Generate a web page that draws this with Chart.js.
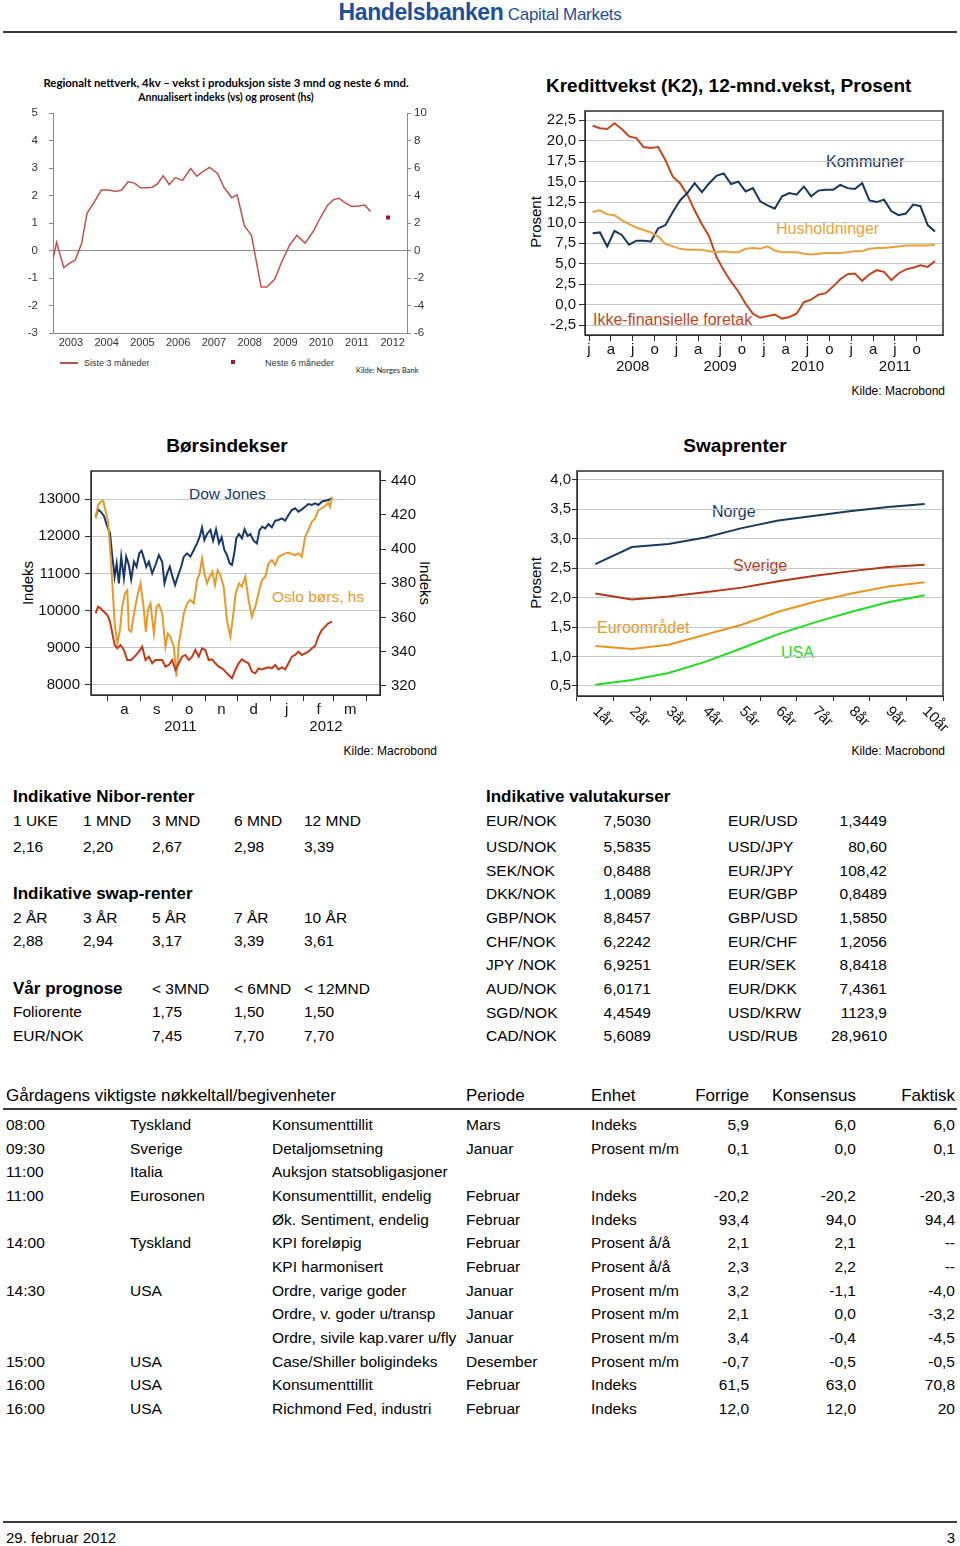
<!DOCTYPE html>
<html><head><meta charset="utf-8">
<script src="https://cdn.jsdelivr.net/npm/chart.js@4.4.0/dist/chart.umd.min.js"></script>
<style>
html,body{margin:0;padding:0;background:#fff;}
body{width:960px;height:1546px;position:relative;overflow:hidden;font-family:"Liberation Sans",Arial,sans-serif;color:#000;}
.t{position:absolute;white-space:nowrap;line-height:1.2;}
canvas{position:absolute;}
.hr{position:absolute;}
</style></head><body>
<script>
// ================= DATA =================
// Chart 1: Regionalt nettverk
const regYears = [2003.00,2003.10,2003.30,2003.48,2003.62,2003.80,2003.95,2004.15,2004.35,2004.55,2004.75,2004.92,2005.10,2005.28,2005.45,2005.62,2005.78,2005.92,2006.08,2006.25,2006.42,2006.62,2006.85,2007.02,2007.20,2007.38,2007.60,2007.78,2008.00,2008.15,2008.35,2008.55,2008.82,2008.98,2009.20,2009.40,2009.62,2009.82,2010.05,2010.28,2010.48,2010.68,2010.85,2011.00,2011.15,2011.35,2011.55,2011.72,2011.88];
const regSiste3 = [-0.30,0.30,-0.62,-0.45,-0.35,0.25,1.35,1.75,2.20,2.20,2.15,2.20,2.50,2.45,2.28,2.28,2.30,2.42,2.72,2.40,2.65,2.55,2.98,2.70,2.88,3.02,2.80,2.30,1.92,2.02,0.90,0.55,-1.33,-1.33,-1.05,-0.40,0.20,0.55,0.27,0.70,1.20,1.65,1.85,1.90,1.75,1.60,1.62,1.65,1.42];
const regNeste6 = {x: 2012.37, y: 1.2};
const regYearLabels = [2003,2004,2005,2006,2007,2008,2009,2010,2011,2012];
const regLeftTicks = [-3,-2,-1,0,1,2,3,4,5];
const regRightTicks = [-6,-4,-2,0,2,4,6,8,10];

// Chart 2: Kredittvekst (monthly, Jan 2008 - Dec 2011)
const k2Kommuner = [8.7,8.8,7.1,9.0,8.5,7.3,7.8,7.8,7.7,9.3,9.7,11.3, 12.7,13.6,14.8,13.7,14.8,15.7,16.0,14.7,15.0,13.8,14.2,12.6, 12.1,11.7,13.2,13.6,13.4,14.4,13.2,13.9,14.0,14.0,14.6,14.2, 14.1,14.8,12.7,12.5,12.8,11.4,10.9,11.1,12.2,12.0,9.7,8.9];
const k2Hush = [11.3,11.5,11.0,10.9,10.3,9.8,9.4,9.1,8.8,8.3,7.4,7.1, 6.8,6.7,6.7,6.7,6.5,6.4,6.5,6.4,6.4,6.8,6.9,6.8, 7.1,6.6,6.4,6.4,6.4,6.2,6.1,6.2,6.3,6.3,6.3,6.4, 6.5,6.5,6.8,6.9,6.9,7.0,7.1,7.2,7.2,7.2,7.2,7.3];
const k2Ikke = [21.8,21.5,21.4,22.1,21.4,20.5,20.3,19.2,19.1,19.2,17.6,15.6, 14.8,13.4,11.5,9.8,8.3,5.8,4.2,2.8,1.6,0.1,-1.1,-1.6, -1.4,-1.2,-1.7,-1.5,-1.1,0.3,0.6,1.2,1.4,2.2,3.1,3.7, 3.8,2.9,3.7,4.2,4.0,3.0,3.8,4.3,4.5,4.8,4.6,5.3];
const k2QuarterLetters = ['j','a','j','o'];
const k2Years = ['2008','2009','2010','2011'];
const k2YTicks = [-2.5,0,2.5,5,7.5,10,12.5,15,17.5,20,22.5];

// Chart 3: Børsindekser (days since 1 Aug 2011)
const djDays = [-11.6,-9.4,-6.9,-3.8,-0.6,1.9,4.1,6.3,8.2,10.3,12.5,15.0,17.2,19.7,21.9,24.5,27.0,29.5,31.7,33.9,36.1,38.6,41.7,44.8,48.0,51.1,53.3,55.8,58.3,60.8,63.3,65.8,69.0,71.5,74.6,77.7,80.9,84.0,86.5,88.7,90.9,93.4,96.6,99.1,101.9,104.7,107.2,109.7,112.2,114.7,116.9,119.1,121.0,123.5,126.3,128.8,131.7,134.2,137.3,140.4,142.9,145.5,148.3,151.4,154.5,157.7,160.8,163.9,167.1,170.2,173.4,176.5,179.6,182.8,185.9,189.0,192.2,195.3,198.4,201.6,204.7,207.8,211.3];
const djVals = [12507,12722,12660,12543,12256,12077,11450,10912,11270,10733,11450,10867,11450,11226,10840,11315,11180,11540,11611,11405,11180,11315,11000,11226,11495,11315,10733,11000,11180,10912,10688,10912,11180,11450,11540,11450,11630,11808,11987,12238,11898,12060,12167,11880,12185,11808,11970,11630,11495,11270,11226,11540,11943,12060,11943,12185,12005,12060,11880,11808,12167,12256,12211,12328,12238,12418,12436,12480,12418,12570,12704,12749,12660,12722,12794,12866,12839,12884,12839,12928,12955,12973,13018];
const osloDays = [-11.6,-9.4,-6.9,-4.4,-2.2,0,1.9,4.1,6.3,8.8,11.3,13.5,16.0,18.2,19.7,21.9,24.5,27.6,30.7,33.2,35.7,37.6,40.1,43.3,45.8,48.0,51.1,54.2,56.4,58.9,62.1,64.6,66.8,69.0,71.5,74.6,77.7,80.9,84.0,86.5,88.7,90.9,93.4,95.9,98.4,100.9,103.4,105.9,109.1,112.2,115.4,117.9,120.4,123.5,126.3,129.5,132.6,135.7,138.9,142.0,145.1,148.3,151.4,154.5,157.7,160.8,163.9,167.1,170.2,173.4,176.5,179.6,182.8,185.9,189.0,192.2,195.3,198.4,201.6,204.7,207.8,209.4,211.3];
const osloVals = [418.0,425.8,427.7,428.3,421.9,416.0,401.4,379.9,356.5,344.8,352.6,366.3,374.1,376.0,352.6,351.6,362.3,372.1,379.9,368.2,351.6,364.1,368.2,350.6,366.3,367.6,362.3,342.8,350.6,348.6,342.8,325.3,344.8,352.6,362.3,368.2,370.2,368.2,381.9,385.8,394.5,385.8,379.9,383.8,386.7,378.9,387.7,384.9,378.0,358.4,348.7,360.4,374.1,379.9,378.0,383.8,370.2,360.4,366.3,374.1,381.9,383.8,391.6,393.6,390.6,395.5,396.5,397.5,397.9,397.1,396.5,397.5,395.5,407.2,411.1,416.0,418.0,422.8,423.8,425.2,427.1,424.8,430.6];
const redDays = [-11.6,-9.4,-6.9,-3.8,-0.6,1.9,4.1,6.3,8.8,11.9,15.0,18.2,21.9,25.1,29.2,32.3,35.4,38.6,41.7,44.8,48.0,51.1,54.2,57.4,60.5,63.6,66.8,69.9,73.0,76.2,79.3,82.4,85.6,88.7,91.8,95.0,98.1,101.3,104.4,107.5,110.7,113.8,116.9,120.1,123.2,126.3,129.5,132.6,135.7,138.9,142.0,145.1,148.3,151.4,154.5,157.7,160.8,163.9,167.1,170.2,173.4,176.5,179.6,182.8,185.9,189.0,192.2,195.3,198.4,201.6,204.7,207.8,211.3];
const redVals = [9927,10106,10061,9971,9882,9703,9389,9076,8986,9076,8941,8672,8672,8762,8896,9031,8672,8762,8583,8672,8672,8672,8493,8538,8672,8403,8583,8762,8807,8672,8762,8941,8762,8986,8941,8672,8690,8583,8493,8448,8359,8269,8180,8403,8583,8690,8628,8583,8359,8314,8448,8421,8448,8475,8448,8538,8421,8475,8421,8583,8762,8807,8896,8807,8852,8896,8986,9049,9300,9479,9568,9658,9703];
const borsMonthStarts = [0,31,61,92,122,153,184,213,244];
const borsMonthLetters = ['a','s','o','n','d','j','f','m'];
const borsYearDays = [68.3,205.6];
const borsYearLabels = ['2011','2012'];
const borsLeftTicks = [8000,8500,9000,9500,10000,10500,11000,11500,12000,12500,13000,13500];
const borsRightTicks = [320,330,340,350,360,370,380,390,400,410,420,430,440];

// Chart 4: Swaprenter
const swapTenors = ['1år','2år','3år','4år','5år','6år','7år','8år','9år','10år'];
const swapNorge = [2.57,2.86,2.91,3.02,3.18,3.31,3.39,3.47,3.54,3.59];
const swapSverige = [2.07,1.97,2.02,2.09,2.17,2.28,2.37,2.45,2.52,2.56];
const swapEuro = [1.18,1.13,1.20,1.37,1.54,1.76,1.93,2.07,2.19,2.26];
const swapUSA = [0.52,0.60,0.72,0.91,1.14,1.38,1.58,1.76,1.92,2.04];
const swapYTicks = [0.5,1.0,1.5,2.0,2.5,3.0,3.5,4.0];

// Tables
const niborHead = ['1 UKE','1 MND','3 MND','6 MND','12 MND'];
const niborVals = ['2,16','2,20','2,67','2,98','3,39'];
const swapHead = ['2 ÅR','3 ÅR','5 ÅR','7 ÅR','10 ÅR'];
const swapVals = ['2,88','2,94','3,17','3,39','3,61'];
const prognHead = ['< 3MND','< 6MND','< 12MND'];
const prognRows = [['Foliorente','1,75','1,50','1,50'],['EUR/NOK','7,45','7,70','7,70']];
const fxLeftNames = ['EUR/NOK','USD/NOK','SEK/NOK','DKK/NOK','GBP/NOK','CHF/NOK','JPY /NOK','AUD/NOK','SGD/NOK','CAD/NOK'];
const fxLeftVals = ['7,5030','5,5835','0,8488','1,0089','8,8457','6,2242','6,9251','6,0171','4,4549','5,6089'];
const fxRightNames = ['EUR/USD','USD/JPY','EUR/JPY','EUR/GBP','GBP/USD','EUR/CHF','EUR/SEK','EUR/DKK','USD/KRW','USD/RUB'];
const fxRightVals = ['1,3449','80,60','108,42','0,8489','1,5850','1,2056','8,8418','7,4361','1123,9','28,9610'];
const evHead = ['Gårdagens viktigste nøkkeltall/begivenheter','Periode','Enhet','Forrige','Konsensus','Faktisk'];
const evRows = [
 ['08:00','Tyskland','Konsumenttillit','Mars','Indeks','5,9','6,0','6,0'],
 ['09:30','Sverige','Detaljomsetning','Januar','Prosent m/m','0,1','0,0','0,1'],
 ['11:00','Italia','Auksjon statsobligasjoner','','','','',''],
 ['11:00','Eurosonen','Konsumenttillit, endelig','Februar','Indeks','-20,2','-20,2','-20,3'],
 ['','','Øk. Sentiment, endelig','Februar','Indeks','93,4','94,0','94,4'],
 ['14:00','Tyskland','KPI foreløpig','Februar','Prosent å/å','2,1','2,1','--'],
 ['','','KPI harmonisert','Februar','Prosent å/å','2,3','2,2','--'],
 ['14:30','USA','Ordre, varige goder','Januar','Prosent m/m','3,2','-1,1','-4,0'],
 ['','','Ordre, v. goder u/transp','Januar','Prosent m/m','2,1','0,0','-3,2'],
 ['','','Ordre, sivile kap.varer u/fly','Januar','Prosent m/m','3,4','-0,4','-4,5'],
 ['15:00','USA','Case/Shiller boligindeks','Desember','Prosent m/m','-0,7','-0,5','-0,5'],
 ['16:00','USA','Konsumenttillit','Februar','Indeks','61,5','63,0','70,8'],
 ['16:00','USA','Richmond Fed, industri','Februar','Indeks','12,0','12,0','20']
];

// ================= HELPERS =================
function T(x,y,s,o){
  o=o||{};
  const d=document.createElement('div'); d.className='t'; d.textContent=s;
  d.style.left=x+'px'; d.style.top=y+'px';
  let tr='translateY(-50%)';
  if(o.a==='r') tr='translate(-100%,-50%)';
  if(o.a==='c') tr='translate(-50%,-50%)';
  if(o.rot) tr='translate(-50%,-50%) rotate('+o.rot+'deg)';
  d.style.transform=tr;
  if(o.f) d.style.fontSize=o.f+'px';
  if(o.b) d.style.fontWeight='bold';
  if(o.c) d.style.color=o.c;
  if(o.ff) d.style.fontFamily=o.ff;
  if(o.ls) d.style.letterSpacing=o.ls+'px';
  document.body.appendChild(d); return d;
}
function H(x,y,w,h,c){const d=document.createElement('div');d.className='hr';d.style.left=x+'px';d.style.top=y+'px';d.style.width=w+'px';d.style.height=h+'px';d.style.background=c;document.body.appendChild(d);return d;}
function C(x,y,w,h){const c=document.createElement('canvas');c.width=w;c.height=h;c.style.left=x+'px';c.style.top=y+'px';c.style.width=w+'px';c.style.height=h+'px';document.body.appendChild(c);return c;}
function fit(w,h){return function(s){if(w!=null)s.width=w;if(h!=null)s.height=h;s.paddingTop=0;s.paddingBottom=0;s.paddingLeft=0;s.paddingRight=0;};}
function fmt1(v){return v.toFixed(1).replace('.',',');}
function xy(xs,ys){return xs.map((x,i)=>({x:x,y:ys[i]}));}
const framePlugin={id:'frame',afterDatasetsDraw(chart,args,opts){if(!opts||!opts.color)return;const ctx=chart.ctx,a=chart.chartArea;ctx.save();ctx.strokeStyle=opts.color;ctx.lineWidth=opts.width||1.5;ctx.strokeRect(a.left,a.top,a.right-a.left,a.bottom-a.top);ctx.restore();}};

Chart.defaults.font.family='"Liberation Sans", Arial, sans-serif';
Chart.defaults.animation=false;
const GRID='#c6c6c6', FRAME='#2e2e2e', TXT='#111';

// ================= HEADER =================
const hd=T(480,13,'',{a:'c'});
hd.innerHTML='<span style="font-family:\'Liberation Sans Narrow\',\'Liberation Sans\';font-weight:bold;font-size:23px;color:#1d4f9c;letter-spacing:-0.4px">Handelsbanken</span> <span style="font-family:\'Liberation Sans Narrow\',\'Liberation Sans\';font-size:17px;color:#1d4f9c;letter-spacing:-0.3px">Capital Markets</span>';
H(3,31,954,2,'#3a3a3a');

// ================= CHART 1 =================
T(226,83,'Regionalt nettverk, 4kv – vekst i produksjon siste 3 mnd og neste 6 mnd.',{a:'c',b:true,f:11.4,ff:'Lato'});
T(226,97,'Annualisert indeks (vs) og prosent (hs)',{a:'c',b:true,f:10.5,ff:'Lato'});
H(60,362,18,2,'#c0504d');
T(84,363,'Siste 3 måneder',{f:9,c:'#333'});
H(231,360,4,4,'#a3182b');
T(265,363,'Neste 6 måneder',{f:9,c:'#333'});
T(356,370,'Kilde: Norges Bank',{f:7.5,ff:'Lato',c:'#222'});

new Chart(C(20,105,420,250),{
  type:'line',
  data:{datasets:[
    {data:xy(regYears,regSiste3),borderColor:'#c0504d',borderWidth:1.5,pointRadius:0,yAxisID:'y'},
    {type:'scatter',data:[regNeste6],pointStyle:'rect',pointRadius:2.2,backgroundColor:'#a3182b',borderColor:'#a3182b',yAxisID:'y'}
  ]},
  options:{responsive:false,layout:{padding:{top:8,left:0,right:0,bottom:0}},
    plugins:{legend:{display:false},tooltip:{enabled:false}},
    scales:{
      x:{type:'linear',min:2003,max:2012.9,afterBuildTicks:s=>{s.ticks=regYearLabels.map(v=>({value:v+0.5}));},
        ticks:{callback:v=>String(Math.floor(v)),color:'#333',font:{size:11},padding:3,autoSkip:false,maxRotation:0},
        grid:{drawOnChartArea:false,drawTicks:false},border:{color:'#8a8a8a'},afterFit:fit(null,22)},
      y:{position:'left',min:-3,max:5,afterBuildTicks:s=>{s.ticks=regLeftTicks.map(v=>({value:v}));},
        ticks:{color:'#333',font:{size:11.5},padding:11},
        grid:{color:c=>(c.tick&&c.tick.value===0)?'#8f8f8f':'rgba(0,0,0,0)',tickColor:'#8a8a8a',tickLength:4},
        border:{color:'#8a8a8a'},afterFit:fit(33)},
      y2:{position:'right',min:-6,max:10,afterBuildTicks:s=>{s.ticks=regRightTicks.map(v=>({value:v}));},
        ticks:{color:'#333',font:{size:11.5},padding:3},
        grid:{drawOnChartArea:false,tickColor:'#8a8a8a',tickLength:4},
        border:{color:'#8a8a8a'},afterFit:fit(33)}
    }}
});

// ================= CHART 2 =================
T(546,86,'Kredittvekst (K2), 12-mnd.vekst, Prosent',{b:true,f:19});
T(536,222,'Prosent',{rot:-90,f:15});
T(945,391,'Kilde: Macrobond',{a:'r',f:12});
T(826,162,'Kommuner',{f:16,c:'#17375e'});
T(776,229,'Husholdninger',{f:16,c:'#e9a23b'});
T(593,320,'Ikke-finansielle foretak',{f:16,c:'#c4461e'});
const k2X=k2Ikke.map((v,i)=>i+0.5);
new Chart(C(520,100,430,275),{
  type:'line',
  data:{datasets:[
    {data:xy(k2X,k2Hush),borderColor:'#e9a23b',borderWidth:2,pointRadius:0},
    {data:xy(k2X,k2Kommuner),borderColor:'#17375e',borderWidth:2,pointRadius:0},
    {data:xy(k2X,k2Ikke),borderColor:'#c4461e',borderWidth:2,pointRadius:0}
  ]},
  plugins:[framePlugin],
  options:{responsive:false,layout:{padding:{top:11,left:0,right:7,bottom:0}},
    plugins:{legend:{display:false},tooltip:{enabled:false},frame:{color:FRAME,width:1.5}},
    scales:{
      x:{type:'linear',min:-0.55,max:48.6,afterBuildTicks:s=>{const t=[];for(let m=0;m<48;m+=3)t.push({value:m});s.ticks=t;},
        ticks:{callback:v=>{const q=Math.round(v/3);const l=k2QuarterLetters[q%4];return (q%4===2)?[l,k2Years[Math.floor(q/4)]]:l;},
          color:TXT,font:{size:15,lineHeight:1.15},padding:0,autoSkip:false,maxRotation:0},
        grid:{drawOnChartArea:false,tickColor:FRAME,tickLength:6},border:{color:FRAME},afterFit:fit(null,40)},
      y:{min:-3.7,max:23.6,afterBuildTicks:s=>{s.ticks=k2YTicks.map(v=>({value:v}));},
        ticks:{callback:v=>fmt1(v),color:TXT,font:{size:15},padding:3},
        grid:{color:GRID,tickColor:FRAME,tickLength:6},border:{color:FRAME},afterFit:fit(65)}
    }}
});

// ================= CHART 3 =================
T(227,446,'Børsindekser',{a:'c',b:true,f:19});
T(28,583,'Indeks',{rot:-90,f:15});
T(425,583,'Indeks',{rot:90,f:15});
T(437,751,'Kilde: Macrobond',{a:'r',f:12});
T(189,494,'Dow Jones',{f:15.5,c:'#16386a'});
T(272,597,'Oslo børs, hs',{f:15.5,c:'#e9992a'});
const borsMids=borsMonthStarts.slice(0,-1).map((v,i)=>(v+borsMonthStarts[i+1])/2);
function idxIn(arr,v){for(let i=0;i<arr.length;i++){if(Math.abs(arr[i]-v)<0.01)return i;}return -1;}
new Chart(C(10,460,440,275),{
  type:'line',
  data:{datasets:[
    {data:xy(redDays,redVals),borderColor:'#c23b16',borderWidth:2,pointRadius:0,yAxisID:'y'},
    {data:xy(osloDays,osloVals),borderColor:'#e9992a',borderWidth:2,pointRadius:0,yAxisID:'y2'},
    {data:xy(djDays,djVals),borderColor:'#16386a',borderWidth:2,pointRadius:0,yAxisID:'y'}
  ]},
  plugins:[framePlugin],
  options:{responsive:false,layout:{padding:{top:11,left:0,right:0,bottom:0}},
    plugins:{legend:{display:false},tooltip:{enabled:false},frame:{color:FRAME,width:1.5}},
    scales:{
      x:{type:'linear',min:-16,max:256.5,
        afterBuildTicks:s=>{s.ticks=borsMonthStarts.concat(borsMids,borsYearDays).sort((a,b)=>a-b).map(v=>({value:v}));},
        ticks:{callback:v=>{const i=idxIn(borsMids,v);if(i>=0)return borsMonthLetters[i];const j=idxIn(borsYearDays,v);if(j>=0)return ['',borsYearLabels[j]];return '';},
          color:TXT,font:{size:15,lineHeight:1.15},padding:0,autoSkip:false,maxRotation:0},
        grid:{drawOnChartArea:false,tickColor:c=>(c.tick&&idxIn(borsMonthStarts,c.tick.value)>=0)?FRAME:'rgba(0,0,0,0)',tickLength:6},
        border:{color:FRAME},afterFit:fit(null,40)},
      y:{position:'left',min:7731,max:13753,afterBuildTicks:s=>{s.ticks=borsLeftTicks.map(v=>({value:v}));},
        ticks:{callback:v=>(v%1000===0)?String(v):'',color:TXT,font:{size:15},padding:5},
        grid:{color:GRID,tickColor:FRAME,tickLength:6},border:{color:FRAME},afterFit:fit(81)},
      y2:{position:'right',min:314.6,max:445.7,afterBuildTicks:s=>{s.ticks=borsRightTicks.map(v=>({value:v}));},
        ticks:{callback:v=>(v%20===0)?String(v):'',color:TXT,font:{size:15},padding:5},
        grid:{drawOnChartArea:false,tickColor:FRAME,tickLength:6},border:{color:FRAME},afterFit:fit(70)}
    }}
});

// ================= CHART 4 =================
T(735,446,'Swaprenter',{a:'c',b:true,f:19});
T(536,583,'Prosent',{rot:-90,f:15});
T(945,751,'Kilde: Macrobond',{a:'r',f:12});
T(712,512,'Norge',{f:16,c:'#1b3a5e'});
T(733,566,'Sverige',{f:16,c:'#b5371a'});
T(597,628,'Euroområdet',{f:16,c:'#e8961e'});
T(781,653,'USA',{f:16,c:'#22dd22'});
const rotLabels={id:'rotLabels',afterDraw(chart){const s=chart.scales.x,ctx=chart.ctx;ctx.save();ctx.font='15px "Liberation Sans", Arial';ctx.fillStyle=TXT;ctx.textAlign='left';ctx.textBaseline='middle';
  swapTenors.forEach((t,i)=>{const x=s.getPixelForValue(i);ctx.save();ctx.translate(x,s.top+13);ctx.rotate(Math.PI/4);ctx.fillText(t,0,0);ctx.restore();});ctx.restore();}};
new Chart(C(520,460,430,280),{
  type:'line',
  data:{labels:swapTenors,datasets:[
    {data:swapUSA,borderColor:'#22dd22',borderWidth:2,pointRadius:0},
    {data:swapEuro,borderColor:'#e8961e',borderWidth:2,pointRadius:0},
    {data:swapSverige,borderColor:'#b5371a',borderWidth:2,pointRadius:0},
    {data:swapNorge,borderColor:'#1b3a5e',borderWidth:2,pointRadius:0}
  ]},
  plugins:[framePlugin,rotLabels],
  options:{responsive:false,layout:{padding:{top:11,left:0,right:7,bottom:0}},
    plugins:{legend:{display:false},tooltip:{enabled:false},frame:{color:FRAME,width:1.5}},
    scales:{
      x:{type:'category',offset:true,ticks:{display:false},
        grid:{offset:true,drawOnChartArea:false,tickColor:FRAME,tickLength:5},border:{color:FRAME},afterFit:fit(null,44)},
      y:{min:0.33,max:4.15,afterBuildTicks:s=>{s.ticks=swapYTicks.map(v=>({value:v}));},
        ticks:{callback:v=>fmt1(v),color:TXT,font:{size:15},padding:1},
        grid:{color:GRID,tickColor:FRAME,tickLength:5},border:{color:FRAME},afterFit:fit(57)}
    }}
});

// ================= TABLES =================
const F=15.5;
T(13,797,'Indikative Nibor-renter',{b:true,f:17});
const nCols=[13,83,152,234,304];
niborHead.forEach((s,i)=>T(nCols[i],821,s,{f:F}));
niborVals.forEach((s,i)=>T(nCols[i],847,s,{f:F}));
T(13,894,'Indikative swap-renter',{b:true,f:17});
swapHead.forEach((s,i)=>T(nCols[i],918,s,{f:F}));
swapVals.forEach((s,i)=>T(nCols[i],941,s,{f:F}));
T(13,989,'Vår prognose',{b:true,f:17});
prognHead.forEach((s,i)=>T(nCols[i+2],989,s,{f:F}));
prognRows.forEach((r,j)=>{const y=1012+j*24;T(13,y,r[0],{f:F});r.slice(1).forEach((s,i)=>T(nCols[i+2],y,s,{f:F}));});

T(486,797,'Indikative valutakurser',{b:true,f:17});
fxLeftNames.forEach((s,i)=>{const y=i===0?821:847+(i-1)*23.65;
  T(486,y,s,{f:F});T(651,y,fxLeftVals[i],{f:F,a:'r'});T(728,y,fxRightNames[i],{f:F});T(887,y,fxRightVals[i],{f:F,a:'r'});});

const evX=[6,466,591,749,856,955];
T(evX[0],1096,evHead[0],{f:17});T(evX[1],1096,evHead[1],{f:17});T(evX[2],1096,evHead[2],{f:17});
T(evX[3],1096,evHead[3],{f:17,a:'r'});T(evX[4],1096,evHead[4],{f:17,a:'r'});T(evX[5],1096,evHead[5],{f:17,a:'r'});
H(3,1108,954,2,'#3a3a3a');
const rCols=[6,130,272,466,591];
evRows.forEach((r,j)=>{const y=1125+j*23.65;
  for(let i=0;i<5;i++){if(r[i])T(rCols[i],y,r[i],{f:F});}
  if(r[5])T(749,y,r[5],{f:F,a:'r'});
  if(r[6])T(856,y,r[6],{f:F,a:'r'});
  if(r[7])T(955,y,r[7],{f:F,a:'r'});
});

// ================= FOOTER =================
H(3,1521,954,2,'#3a3a3a');
T(6,1538,'29. februar 2012',{f:15,ff:'"Liberation Sans Narrow","Liberation Sans"'});
T(955,1538,'3',{f:15,a:'r',ff:'"Liberation Sans Narrow","Liberation Sans"'});
</script>
</body></html>
